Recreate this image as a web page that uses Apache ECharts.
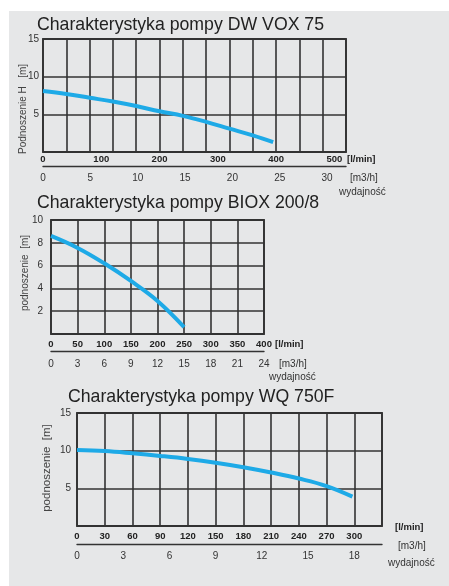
<!DOCTYPE html>
<html>
<head>
<meta charset="utf-8">
<script src="https://cdn.jsdelivr.net/npm/echarts@6/dist/echarts.min.js"></script>
<style>
  html, body { margin: 0; padding: 0; background: #fff; }
  #chart { width: 449px; height: 586px; }
</style>
</head>
<body>
<div id="chart"></div>
<script>
// DW VOX 75
const flowDw = [0, 40, 80, 120, 160, 200, 240, 280, 320, 360, 395];
const headDw = [8.1, 7.7, 7.2, 6.7, 6.1, 5.4, 4.8, 4.0, 3.1, 2.2, 1.3];
const lpmTicksDw = [0, 100, 200, 300, 400, 500];
const m3hTicksDw = [0, 5, 10, 15, 20, 25, 30];
const headTicksDw = [5, 10, 15];

// BIOX 200/8
const flowBiox = [0, 50, 100, 150, 200, 250];
const headBiox = [8.6, 7.55, 6.2, 4.65, 2.9, 0.6];
const lpmTicksBiox = [0, 50, 100, 150, 200, 250, 300, 350, 400];
const m3hTicksBiox = [0, 3, 6, 9, 12, 15, 18, 21, 24];
const headTicksBiox = [2, 4, 6, 8, 10];

// WQ 750F
const flowWq = [0, 30, 60, 90, 120, 150, 180, 210, 240, 270, 298];
const headWq = [10.1, 9.95, 9.65, 9.3, 8.9, 8.4, 7.8, 7.1, 6.3, 5.3, 3.9];
const lpmTicksWq = [0, 30, 60, 90, 120, 150, 180, 210, 240, 270, 300];
const m3hTicksWq = [0, 3, 6, 9, 12, 15, 18];
const headTicksWq = [5, 10, 15];

const FONT = '"Liberation Sans", Arial, sans-serif';
const LINE = '#333';
const BLUE = '#1eaae7';

const chart = echarts.init(document.getElementById('chart'));

function lpmAxis(grid, max, step, ticks, margin) {
  return {
    gridIndex: grid, type: 'value', position: 'bottom', min: 0, max: max, interval: step,
    axisLine: { show: false }, axisTick: { show: false },
    splitLine: { show: true, lineStyle: { color: LINE, width: 1.6 } },
    axisLabel: { customValues: ticks, margin: margin, fontSize: 9.5, fontWeight: 'bold', color: '#222', fontFamily: FONT }
  };
}

function m3hAxis(grid, max, ticks, offset, margin) {
  return {
    gridIndex: grid, type: 'value', position: 'bottom', offset: offset, min: 0, max: max,
    axisLine: { show: true, lineStyle: { color: LINE, width: 1.4 } },
    axisTick: { show: false }, splitLine: { show: false },
    axisLabel: { customValues: ticks, margin: margin, fontSize: 10, color: '#333', fontFamily: FONT }
  };
}

function headAxis(grid, max, step, ticks, margin) {
  return {
    gridIndex: grid, type: 'value', min: 0, max: max, interval: step,
    axisLine: { show: false }, axisTick: { show: false },
    splitLine: { show: true, lineStyle: { color: LINE, width: 1.6 } },
    axisLabel: { customValues: ticks, margin: margin, fontSize: 10, color: '#333', fontFamily: FONT }
  };
}

function curve(xIdx, yIdx, flow, head) {
  return {
    type: 'line', xAxisIndex: xIdx, yAxisIndex: yIdx, smooth: 0.4, symbol: 'none',
    lineStyle: { color: BLUE, width: 4, cap: 'butt' },
    data: flow.map((f, i) => [f, head[i]])
  };
}

function note(text, x, y, bold) {
  return {
    type: 'text', x: x, y: y,
    style: { text: text, fill: bold ? '#222' : '#333', align: 'left', verticalAlign: 'middle',
      font: (bold ? 'bold 9.5px ' : '10px ') + FONT }
  };
}

// rotated y axis titles
function yName(text, x, y, size) {
  return {
    type: 'text', x: x, y: y, rotation: Math.PI / 2,
    style: { text: text, fill: '#444', align: 'center', verticalAlign: 'middle', font: size + 'px ' + FONT }
  };
}

const titleStyle = { fontSize: 17.7, fontWeight: 'normal', color: '#222', fontFamily: FONT };

chart.setOption({
  backgroundColor: '#fff',
  animation: false,
  title: [
    { text: 'Charakterystyka pompy DW VOX 75', left: 37, top: 16, padding: 0, textStyle: titleStyle },
    { text: 'Charakterystyka pompy BIOX 200/8', left: 37, top: 194, padding: 0, textStyle: titleStyle },
    { text: 'Charakterystyka pompy WQ 750F', left: 68, top: 388, padding: 0, textStyle: titleStyle }
  ],
  graphic: [
    { type: 'rect', z: -10, shape: { x: 9, y: 11, width: 440, height: 575 }, style: { fill: '#e6e7e8' } },
    yName('Podnoszenie H   [m]', 23, 109, 10),
    yName('podnoszenie  [m]', 25, 273, 10),
    yName('podnoszenie  [m]', 47, 468, 11.5),
    note('[l/min]', 347, 159, true),
    note('[m3/h]', 350, 178),
    note('wydajność', 339, 192),
    note('[l/min]', 275, 344, true),
    note('[m3/h]', 279, 364),
    note('wydajność', 269, 377),
    note('[l/min]', 395, 527, true),
    note('[m3/h]', 398, 546),
    note('wydajność', 388, 563)
  ],
  grid: [
    { left: 43, top: 39, width: 303, height: 113, show: true, borderColor: LINE, borderWidth: 1.8, backgroundColor: 'transparent' },
    { left: 51, top: 220, width: 213, height: 114, show: true, borderColor: LINE, borderWidth: 1.8, backgroundColor: 'transparent' },
    { left: 77, top: 413, width: 305, height: 113, show: true, borderColor: LINE, borderWidth: 1.8, backgroundColor: 'transparent' }
  ],
  xAxis: [
    lpmAxis(0, 520, 40, lpmTicksDw, 2),
    m3hAxis(0, 32, m3hTicksDw, 14, 7),
    lpmAxis(1, 400, 50, lpmTicksBiox, 5),
    m3hAxis(1, 24, m3hTicksBiox, 17, 8),
    lpmAxis(2, 330, 30, lpmTicksWq, 5),
    m3hAxis(2, 19.8, m3hTicksWq, 18, 7)
  ],
  yAxis: [
    headAxis(0, 15, 5, headTicksDw, 4),
    headAxis(1, 10, 2, headTicksBiox, 8),
    headAxis(2, 15, 5, headTicksWq, 6)
  ],
  series: [
    curve(0, 0, flowDw, headDw),
    curve(2, 1, flowBiox, headBiox),
    curve(4, 2, flowWq, headWq)
  ]
});
</script>
</body>
</html>
